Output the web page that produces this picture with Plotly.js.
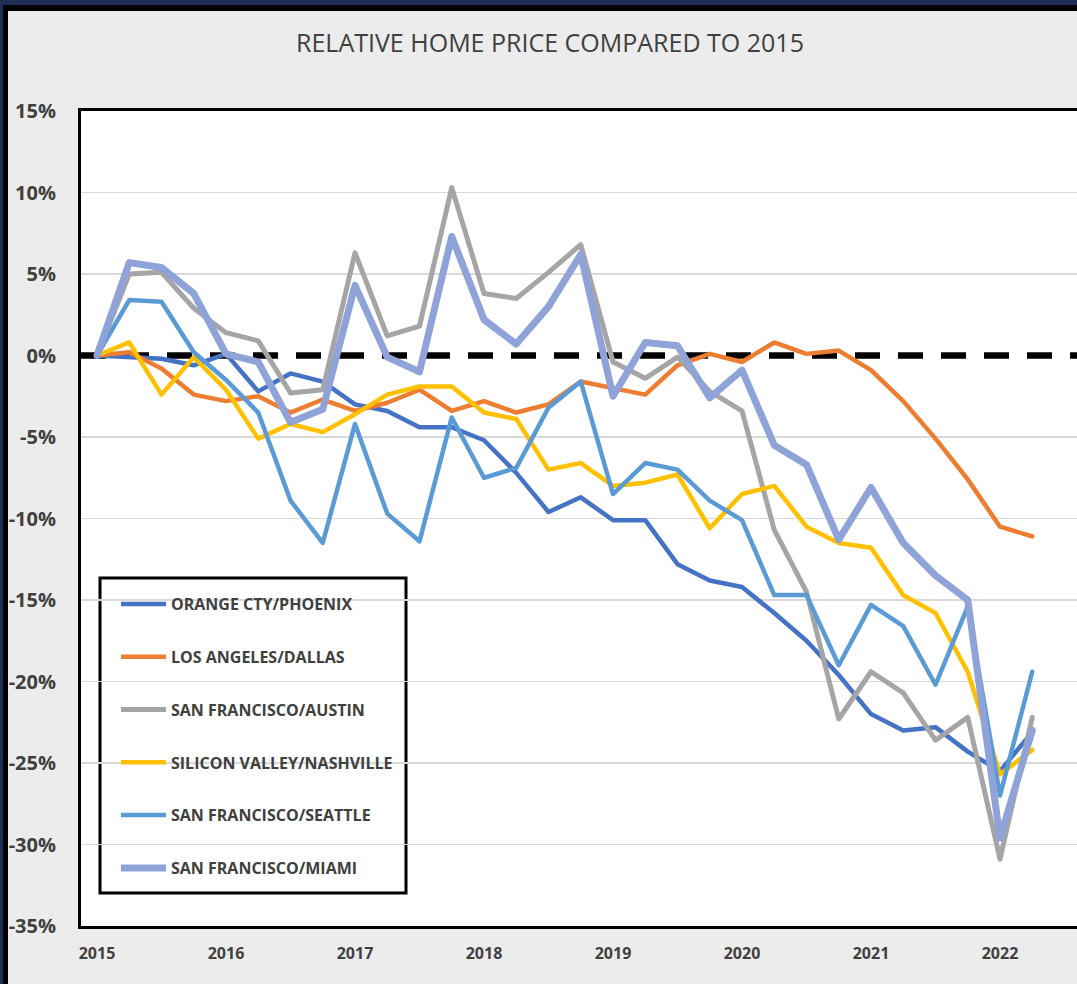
<!DOCTYPE html>
<html>
<head>
<meta charset="utf-8">
<script src="https://cdn.plot.ly/plotly-3.0.1.min.js"></script>
<style>
  html, body { margin: 0; padding: 0; background: #ececec; overflow: hidden; }
  #chart { width: 1077px; height: 984px; }
  .scatterlayer .js-line { stroke-linejoin: round; stroke-linecap: round; }
</style>
</head>
<body>
<div id="chart"></div>
<script>
// Quarterly observation dates (year fractions)
const quarters = [2015, 2015.25, 2015.5, 2015.75, 2016, 2016.25, 2016.5, 2016.75,
  2017, 2017.25, 2017.5, 2017.75, 2018, 2018.25, 2018.5, 2018.75,
  2019, 2019.25, 2019.5, 2019.75, 2020, 2020.25, 2020.5, 2020.75,
  2021, 2021.25, 2021.5, 2021.75, 2022, 2022.25];

const seriesNames = ["ORANGE CTY/PHOENIX", "LOS ANGELES/DALLAS", "SAN FRANCISCO/AUSTIN",
  "SILICON VALLEY/NASHVILLE", "SAN FRANCISCO/SEATTLE", "SAN FRANCISCO/MIAMI"];

const orangeCtyPhoenix = [0, -0.1, -0.2, -0.6, 0.1, -2.2, -1.1, -1.6, -3.0, -3.4, -4.4, -4.4,
  -5.2, -7.2, -9.6, -8.7, -10.1, -10.1, -12.8, -13.8, -14.2, -15.8, -17.5, -19.6,
  -22.0, -23.0, -22.8, -24.3, -25.5, -23.1];
const losAngelesDallas = [0, 0.2, -0.8, -2.4, -2.8, -2.5, -3.5, -2.7, -3.4, -2.9, -2.1, -3.4,
  -2.8, -3.5, -3.0, -1.6, -2.0, -2.4, -0.6, 0.1, -0.4, 0.8, 0.1, 0.3,
  -0.9, -2.8, -5.1, -7.6, -10.5, -11.1];
const sanFranciscoAustin = [0, 5.0, 5.1, 2.9, 1.4, 0.9, -2.3, -2.1, 6.3, 1.2, 1.8, 10.3,
  3.8, 3.5, 5.1, 6.8, -0.4, -1.4, -0.1, -2.2, -3.4, -10.7, -14.5, -22.3,
  -19.4, -20.7, -23.6, -22.2, -30.9, -22.2];
const siliconValleyNashville = [0, 0.8, -2.4, -0.1, -2.1, -5.1, -4.2, -4.7, -3.6, -2.4, -1.9, -1.9,
  -3.5, -3.9, -7.0, -6.6, -8.0, -7.8, -7.3, -10.6, -8.5, -8.0, -10.5, -11.5,
  -11.8, -14.7, -15.8, -19.4, -25.7, -24.2];
const sanFranciscoSeattle = [0, 3.4, 3.3, 0.2, -1.5, -3.5, -8.9, -11.5, -4.2, -9.7, -11.4, -3.8,
  -7.5, -6.9, -3.2, -1.6, -8.5, -6.6, -7.0, -8.9, -10.1, -14.7, -14.7, -19.0,
  -15.3, -16.6, -20.2, -15.4, -27.0, -19.4];
const sanFranciscoMiami = [0, 5.7, 5.4, 3.8, 0.1, -0.4, -4.1, -3.3, 4.3, -0.1, -1.0, 7.3,
  2.2, 0.7, 3.0, 6.2, -2.5, 0.8, 0.6, -2.6, -0.9, -5.5, -6.7, -11.3,
  -8.1, -11.5, -13.5, -15.0, -29.6, -23.0];

const yTickVals = [15, 10, 5, 0, -5, -10, -15, -20, -25, -30, -35];
const yTickText = ["15%", "10%", "5%", "0%", "-5%", "-10%", "-15%", "-20%", "-25%", "-30%", "-35%"];
const yGridVals = [15, 10, 5, -5, -10, -15, -20, -25, -30, -35];
const xTickVals = [2015, 2016, 2017, 2018, 2019, 2020, 2021, 2022];
const xTickText = ["2015", "2016", "2017", "2018", "2019", "2020", "2021", "2022"];
const baseline = 0;

const allSeries = [orangeCtyPhoenix, losAngelesDallas, sanFranciscoAustin,
  siliconValleyNashville, sanFranciscoSeattle, sanFranciscoMiami];
const colors = ["#4472C4", "#ED7D31", "#A5A5A5", "#FFC000", "#5B9BD5", "#8FA3D8"];
const widths = [4.5, 4.5, 5, 4.5, 4.5, 7];

const traces = allSeries.map((vals, i) => ({
  type: "scatter",
  mode: "lines",
  x: quarters,
  y: vals,
  name: seriesNames[i],
  legendgroup: "g" + i,
  line: { color: colors[i], width: widths[i] },
  hoverinfo: "skip"
}));

// pixel -> paper helpers (plot area: x 81..1077, y 111..926)
const L = 81, R = 1077, T = 111, B = 926;
const px = X => (X - L) / (R - L);
const py = Y => (B - Y) / (B - T);

const layout = {
  width: 1077,
  height: 984,
  margin: { l: L, r: 1077 - R, t: T, b: 984 - B, pad: 0 },
  paper_bgcolor: "#ececec",
  plot_bgcolor: "#ffffff",
  font: { family: "Open Sans, sans-serif", color: "#404040" },
  title: {
    text: "RELATIVE HOME PRICE COMPARED TO 2015",
    font: { family: "Open Sans, sans-serif", size: 25, color: "#404040" },
    x: 550 / 1077, xanchor: "center",
    y: 1 - 43 / 984, yanchor: "middle"
  },
  xaxis: {
    range: [2015 - 16 / 129, 2015 + (R - 97) / 129],
    tickvals: xTickVals,
    ticktext: xTickText,
    ticks: "outside",
    ticklen: 11,
    tickcolor: "rgba(0,0,0,0)",
    tickfont: { size: 16, color: "#404040", weight: "bold" },
    showgrid: false,
    zeroline: false,
    showline: true,
    linecolor: "#000000",
    linewidth: 3,
    mirror: true,
    automargin: false,
    fixedrange: true
  },
  yaxis: {
    range: [-35, 15],
    tickvals: yTickVals,
    ticktext: yTickText,
    ticks: "outside",
    ticklen: 18,
    tickcolor: "rgba(0,0,0,0)",
    tickfont: { size: 20, color: "#404040", weight: "bold" },
    showgrid: false,
    minor: {
      tickvals: yGridVals,
      ticks: "",
      showgrid: true,
      gridcolor: "#d9d9d9",
      gridwidth: 1.5
    },
    zeroline: false,
    showline: true,
    linecolor: "#000000",
    linewidth: 3,
    mirror: false,
    automargin: false,
    fixedrange: true
  },
  showlegend: true,
  legend: {
    x: px(116), y: py(587),
    xanchor: "left", yanchor: "top",
    bgcolor: "rgba(0,0,0,0)",
    borderwidth: 0,
    traceorder: "grouped",
    tracegroupgap: 29,
    itemwidth: 45,
    font: { size: 16, color: "#404040", weight: "bold" }
  },
  shapes: [
    // zero reference line
    { type: "line", xref: "paper", x0: 0, x1: 1, yref: "y", y0: baseline, y1: baseline,
      line: { color: "#000000", width: 6.5, dash: "25px,18px" }, layer: "between" },
    // legend box
    { type: "rect", xref: "paper", yref: "paper", x0: px(100), x1: px(406), y0: py(893), y1: py(578),
      line: { color: "#000000", width: 3 }, fillcolor: "#ffffff", layer: "between" },
    // outer frame: top navy and black bands, left black strip
    { type: "rect", xref: "paper", yref: "paper", x0: px(-5), x1: px(1090), y0: py(5), y1: py(-5),
      line: { width: 0 }, fillcolor: "#1f2d54", layer: "above" },
    { type: "rect", xref: "paper", yref: "paper", x0: px(-5), x1: px(1090), y0: py(11), y1: py(5),
      line: { width: 0 }, fillcolor: "#000000", layer: "above" },
    { type: "rect", xref: "paper", yref: "paper", x0: px(-5), x1: px(3), y0: py(990), y1: py(5),
      line: { width: 0 }, fillcolor: "#1f2d54", layer: "above" },
    { type: "rect", xref: "paper", yref: "paper", x0: px(3), x1: px(8), y0: py(990), y1: py(11),
      line: { width: 0 }, fillcolor: "#000000", layer: "above" }
  ]
};

Plotly.newPlot("chart", traces, layout, { displayModeBar: false, staticPlot: true });
</script>
</body>
</html>
